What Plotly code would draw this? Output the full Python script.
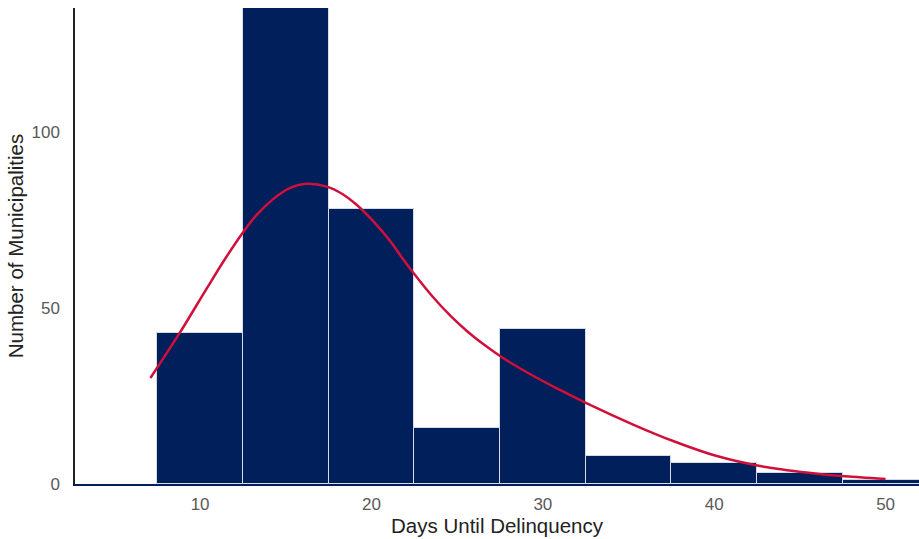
import plotly.graph_objects as go

# Histogram of days until delinquency (5-day bins)
bin_centers = [10, 15, 20, 25, 30, 35, 40, 45, 50]
bin_counts = [43, 135, 78, 16, 44, 8, 6, 3, 1]
bin_width = 5

# Smoothed density curve, scaled to counts
curve_days = [7.1, 8.8, 10.4, 11.5, 12.5, 13.3, 14.3, 15.2, 16.2, 17.4, 18.3, 19.1,
              20.1, 21.1, 21.7, 22.5, 23.6, 24.6, 25.6, 26.5, 27.7, 29.4, 31.0,
              32.6, 35.3, 37.6, 40.1, 43.0, 46.0, 48.5, 50.0]
curve_counts = [30.1, 42.8, 55.6, 64.2, 71.4, 76.4, 81.0, 83.9, 85.2, 84.4, 82.3, 79.4,
                74.6, 68.9, 64.8, 59.6, 53.0, 47.8, 43.3, 39.8, 35.7, 30.8, 26.7,
                22.8, 16.8, 12.2, 8.0, 4.8, 2.9, 1.9, 1.4]

x_ticks = [10, 20, 30, 40, 50]
y_ticks = [0, 50, 100]

navy = "#001f5b"
red = "#d0103a"

fig = go.Figure()
fig.add_trace(go.Bar(
    x=bin_centers, y=bin_counts, width=bin_width,
    marker=dict(color=navy, line=dict(color="#d5dbe3", width=1)),
    hoverinfo="x+y",
))
fig.add_trace(go.Scatter(
    x=curve_days, y=curve_counts, mode="lines",
    line=dict(color=red, width=2.5, shape="spline", smoothing=1.0),
))

fig.update_layout(
    width=919, height=539,
    margin=dict(l=75, r=0, t=8, b=55),
    paper_bgcolor="white", plot_bgcolor="white",
    showlegend=False, bargap=0,
    font=dict(family="Liberation Sans, Arial, sans-serif"),
)
fig.update_xaxes(
    range=[2.7, 51.95], tickvals=x_ticks,
    ticks="outside", ticklen=4, tickcolor="rgba(0,0,0,0)",
    showgrid=False, zeroline=False,
    showline=True, linecolor=navy, linewidth=2,
    tickfont=dict(size=17, color="#595959"),
    title=dict(text="Days Until Delinquency", font=dict(size=20.5, color="#222222"), standoff=2),
)
fig.update_yaxes(
    range=[0, 135.1], tickvals=y_ticks,
    ticks="outside", ticklen=10, tickcolor="rgba(0,0,0,0)",
    showgrid=False, zeroline=False,
    showline=True, linecolor="#222222", linewidth=1.5,
    tickfont=dict(size=17, color="#595959"),
    title=dict(text="Number of Municipalities", font=dict(size=20.5, color="#222222"), standoff=2),
)

fig.write_html("out.html")
